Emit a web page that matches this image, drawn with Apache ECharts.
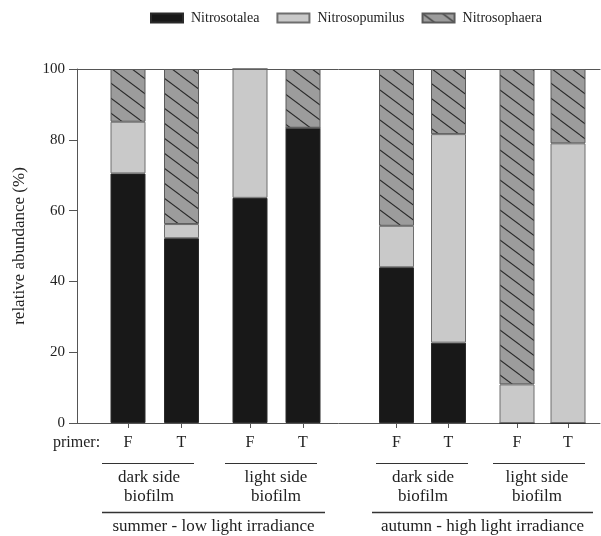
<!DOCTYPE html>
<html>
<head>
<meta charset="utf-8">
<script src="https://cdn.jsdelivr.net/npm/echarts@6/dist/echarts.min.js"></script>
<style>
  html, body { margin: 0; padding: 0; background: #ffffff; }
  #chart { width: 601px; height: 536px; }
</style>
</head>
<body>
<div id="chart"></div>
<script>
// Relative abundance (%) of the three archaeal genera per sample, in plot order:
// summer dark F/T, summer light F/T, autumn dark F/T, autumn light F/T
const primers = ['F', 'T'];
const nitrosotalea   = [70.5, 52.2, 63.6, 83.4, 44.0, 22.7, 0.0, 0.0];
const nitrosopumilus = [14.6,  4.0, 36.4,  0.0, 11.7, 58.9, 10.9, 79.0];
const nitrosophaera  = [14.9, 43.8,  0.0, 16.6, 44.3, 18.4, 89.1, 21.0];
const genusNames = ['Nitrosotalea', 'Nitrosopumilus', 'Nitrosophaera'];
const biofilmLabels = ['dark side\nbiofilm', 'light side\nbiofilm', 'dark side\nbiofilm', 'light side\nbiofilm'];
const seasonLabels = ['summer - low light irradiance', 'autumn - high light irradiance'];
const yAxisTitle = 'relative abundance (%)';
const primerTitle = 'primer:';

// ---- layout ----
const FONT = 'Liberation Serif, Times New Roman, serif';
const TEXT = '#222222';
const AXIS = '#555555';
const plot = { left: 77, top: 69, right: 1, bottom: 113 };
// one small grid per F/T pair: [left, width]
const pairGrids = [[101.25, 107], [223.5, 106], [370.5, 104], [491.5, 102]];
// underline spans for biofilm groups and seasons: [x1, x2]
const biofilmLines = [[102, 194], [225, 317], [376, 468], [493, 585]];
const biofilmCenters = [149, 276, 423, 537];
const seasonLines = [[102, 325], [372, 593]];

// diagonal hatch for Nitrosophaera
function hatchPattern() {
  const w = 20, h = 15;
  const c = document.createElement('canvas');
  c.width = w; c.height = h;
  const g = c.getContext('2d');
  g.fillStyle = '#9c9c9c';
  g.fillRect(0, 0, w, h);
  g.strokeStyle = '#2b2b2b';
  g.lineWidth = 1.1;
  for (let k = -1; k <= 1; k++) {
    g.beginPath();
    g.moveTo(0, k * h);
    g.lineTo(w, h + k * h);
    g.stroke();
  }
  return { image: c, repeat: 'repeat' };
}

const fills = ['#181818', '#c9c9c9', hatchPattern()];
const borders = ['#2a2a2a', '#6e6e6e', '#5a5a5a'];
const values = [nitrosotalea, nitrosopumilus, nitrosophaera];

const grids = [{ left: plot.left, right: plot.right, top: plot.top, bottom: plot.bottom, containLabel: false }];
const xAxes = [
  { gridIndex: 0, type: 'value', min: 0, max: 1, position: 'bottom',
    axisLine: { show: true, lineStyle: { color: AXIS, width: 1 } },
    axisTick: { show: false }, axisLabel: { show: false }, splitLine: { show: false } },
  { gridIndex: 0, type: 'value', min: 0, max: 1, position: 'top',
    axisLine: { show: true, lineStyle: { color: AXIS, width: 1 } },
    axisTick: { show: false }, axisLabel: { show: false }, splitLine: { show: false } }
];
const yAxes = [
  { gridIndex: 0, type: 'value', min: 0, max: 100, interval: 20, position: 'left',
    name: yAxisTitle, nameLocation: 'middle', nameGap: 49,
    nameTextStyle: { fontFamily: FONT, fontSize: 17, color: TEXT },
    axisLine: { show: true, lineStyle: { color: AXIS, width: 1 } },
    axisTick: { show: true, inside: false, length: 8, lineStyle: { color: AXIS } },
    axisLabel: { margin: 12, fontFamily: FONT, fontSize: 15, color: TEXT },
    splitLine: { show: false } }
];
const series = [];

pairGrids.forEach(function (pg, i) {
  const gi = i + 1;
  grids.push({ left: pg[0], width: pg[1], top: plot.top, bottom: plot.bottom });
  xAxes.push({
    gridIndex: gi, type: 'category', data: primers, position: 'bottom',
    axisLine: { show: false },
    axisTick: { show: true, alignWithLabel: true, length: 5, lineStyle: { color: AXIS } },
    axisLabel: { margin: 12, fontFamily: FONT, fontSize: 16, color: TEXT },
    splitLine: { show: false }
  });
  yAxes.push({ gridIndex: gi, type: 'value', min: 0, max: 100, show: false, splitLine: { show: false } });
  genusNames.forEach(function (name, s) {
    series.push({
      name: name,
      type: 'bar',
      xAxisIndex: xAxes.length - 1,
      yAxisIndex: yAxes.length - 1,
      stack: 'pair' + i,
      barWidth: 35,
      data: values[s].slice(i * 2, i * 2 + 2),
      itemStyle: { color: fills[s], borderColor: borders[s], borderWidth: 1 },
      emphasis: { disabled: true },
      animation: false
    });
  });
});

// annotations under the axis
const graphic = [
  { type: 'text', left: 53, top: 435, style: { text: primerTitle, font: '16px ' + FONT, fill: TEXT } }
];
biofilmLines.forEach(function (ln, i) {
  graphic.push({ type: 'line', shape: { x1: ln[0], y1: 463.5, x2: ln[1], y2: 463.5 },
    style: { stroke: '#333', lineWidth: 1 } });
  graphic.push({ type: 'text', x: biofilmCenters[i], y: 468,
    style: { text: biofilmLabels[i], font: '17px ' + FONT, fill: TEXT, align: 'center', verticalAlign: 'top', lineHeight: 19 } });
});
seasonLines.forEach(function (ln, i) {
  graphic.push({ type: 'line', shape: { x1: ln[0], y1: 512.5, x2: ln[1], y2: 512.5 },
    style: { stroke: '#333', lineWidth: 1.6 } });
  graphic.push({ type: 'text', x: (ln[0] + ln[1]) / 2, y: 527,
    style: { text: seasonLabels[i], font: '17px ' + FONT, fill: TEXT, align: 'center', verticalAlign: 'middle' } });
});

const chart = echarts.init(document.getElementById('chart'), null, { renderer: 'canvas' });
chart.setOption({
  animation: false,
  backgroundColor: '#ffffff',
  legend: {
    data: genusNames,
    left: 150, top: 11, padding: 0,
    itemWidth: 32, itemHeight: 9, itemGap: 17,
    icon: 'rect',
    selectedMode: false,
    textStyle: { fontFamily: FONT, fontSize: 14, color: TEXT, padding: [0, 0, 0, 3] }
  },
  grid: grids,
  xAxis: xAxes,
  yAxis: yAxes,
  series: series,
  graphic: graphic
});
</script>
</body>
</html>
